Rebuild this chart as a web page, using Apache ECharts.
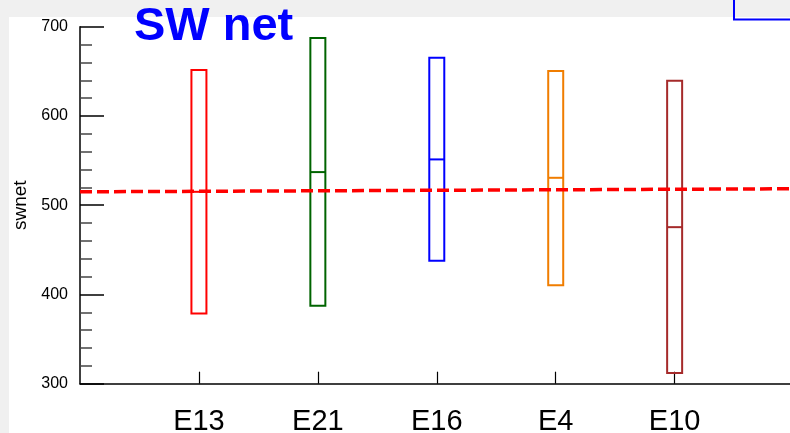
<!DOCTYPE html>
<html>
<head>
<meta charset="utf-8">
<script src="https://cdn.jsdelivr.net/npm/echarts@6/dist/echarts.min.js"></script>
<style>
  html, body { margin: 0; padding: 0; background: #f0f0f0; }
  #chart { width: 790px; height: 433px; }
</style>
</head>
<body>
<div id="chart"></div>
<script>
// Experiments along the x axis, one box per experiment
const categories = ['E13', 'E21', 'E16', 'E4', 'E10'];
const boxLow = [378.7, 387.2, 437.7, 410.4, 312.1];
const boxHigh = [651.5, 687.3, 665.2, 650.3, 639.5];
const boxMedian = [515.0, 537.1, 551.3, 530.7, 475.4];
const boxColors = ['#ff0000', '#006400', '#0000ff', '#f07d00', '#a52a2a'];

// Reference trend line (x position, value)
const refX = [0, 5.97];
const refY = [515.0, 518.4];

// y-axis ticks
const yTicks = [300, 400, 500, 600, 700];

const FONT = '"Liberation Sans", Arial, Helvetica, sans-serif';

const boxData = categories.map((c, i) => [i + 1, boxLow[i], boxHigh[i], boxMedian[i], i]);
const refData = refX.map((x, i) => [x, refY[i]]);

const chart = echarts.init(document.getElementById('chart'), null, { renderer: 'canvas' });

chart.setOption({
  backgroundColor: '#f0f0f0',
  animation: false,
  title: {
    text: 'SW net',
    left: 134,
    top: 4,
    padding: 0,
    textStyle: { color: '#0000ff', fontSize: 47, fontWeight: 'bold', fontFamily: FONT }
  },
  graphic: [
    {
      type: 'rect', z: -10, silent: true,
      shape: { x: 9, y: 17, width: 790, height: 420 },
      style: { fill: '#ffffff' }
    },
    {
      type: 'rect', z: 10, silent: true,
      shape: { x: 734, y: -3, width: 70, height: 22.5 },
      style: { fill: 'none', stroke: '#0000ff', lineWidth: 2 }
    }
  ],
  grid: {
    left: 80, right: 0, top: 26.7, bottom: 49.3,
    containLabel: false,
    outerBoundsMode: 'none'
  },
  xAxis: {
    type: 'value',
    min: 0,
    max: refX[1],
    interval: 1,
    splitLine: { show: false },
    axisLine: { show: true, lineStyle: { color: '#000', width: 1.5 } },
    axisTick: {
      show: true, inside: true, length: 12,
      customValues: categories.map((c, i) => i + 1),
      lineStyle: { color: '#000', width: 1.2 }
    },
    axisLabel: {
      customValues: categories.map((c, i) => i + 1),
      formatter: v => categories[Math.round(v) - 1] || '',
      color: '#000', fontSize: 29, fontFamily: FONT, margin: 24
    }
  },
  yAxis: {
    type: 'value',
    min: yTicks[0],
    max: yTicks[yTicks.length - 1],
    interval: 100,
    name: 'swnet',
    nameLocation: 'middle',
    nameRotate: 90,
    nameGap: 48,
    nameTextStyle: { color: '#000', fontSize: 19, fontFamily: FONT },
    splitLine: { show: false },
    axisLine: { show: true, onZero: false, lineStyle: { color: '#000', width: 1.5 } },
    axisTick: { show: true, inside: true, length: 24, lineStyle: { color: '#000', width: 1.5 } },
    minorTick: { show: true, splitNumber: 5, length: 12, lineStyle: { color: '#444', width: 1.5 } },
    minorSplitLine: { show: false },
    axisLabel: { color: '#000', fontSize: 16, fontFamily: FONT, margin: 12 }
  },
  series: [
    {
      type: 'custom',
      data: boxData,
      clip: false,
      z: 2,
      renderItem: (params, api) => {
        const x = api.value(0);
        const pLo = api.coord([x, api.value(1)]);
        const pHi = api.coord([x, api.value(2)]);
        const pMed = api.coord([x, api.value(3)]);
        const color = boxColors[api.value(4)];
        const w = 15;
        return {
          type: 'group',
          children: [
            {
              type: 'rect',
              shape: { x: pLo[0] - w / 2, y: pHi[1], width: w, height: pLo[1] - pHi[1] },
              style: { fill: 'none', stroke: color, lineWidth: 2 }
            },
            {
              type: 'line',
              shape: { x1: pLo[0] - w / 2, y1: pMed[1], x2: pLo[0] + w / 2, y2: pMed[1] },
              style: { stroke: color, lineWidth: 2 }
            }
          ]
        };
      }
    },
    {
      type: 'line',
      data: refData,
      z: 3,
      symbol: 'none',
      silent: true,
      lineStyle: { color: '#ff0000', width: 3.5, type: [12, 5] }
    }
  ]
});
</script>
</body>
</html>
